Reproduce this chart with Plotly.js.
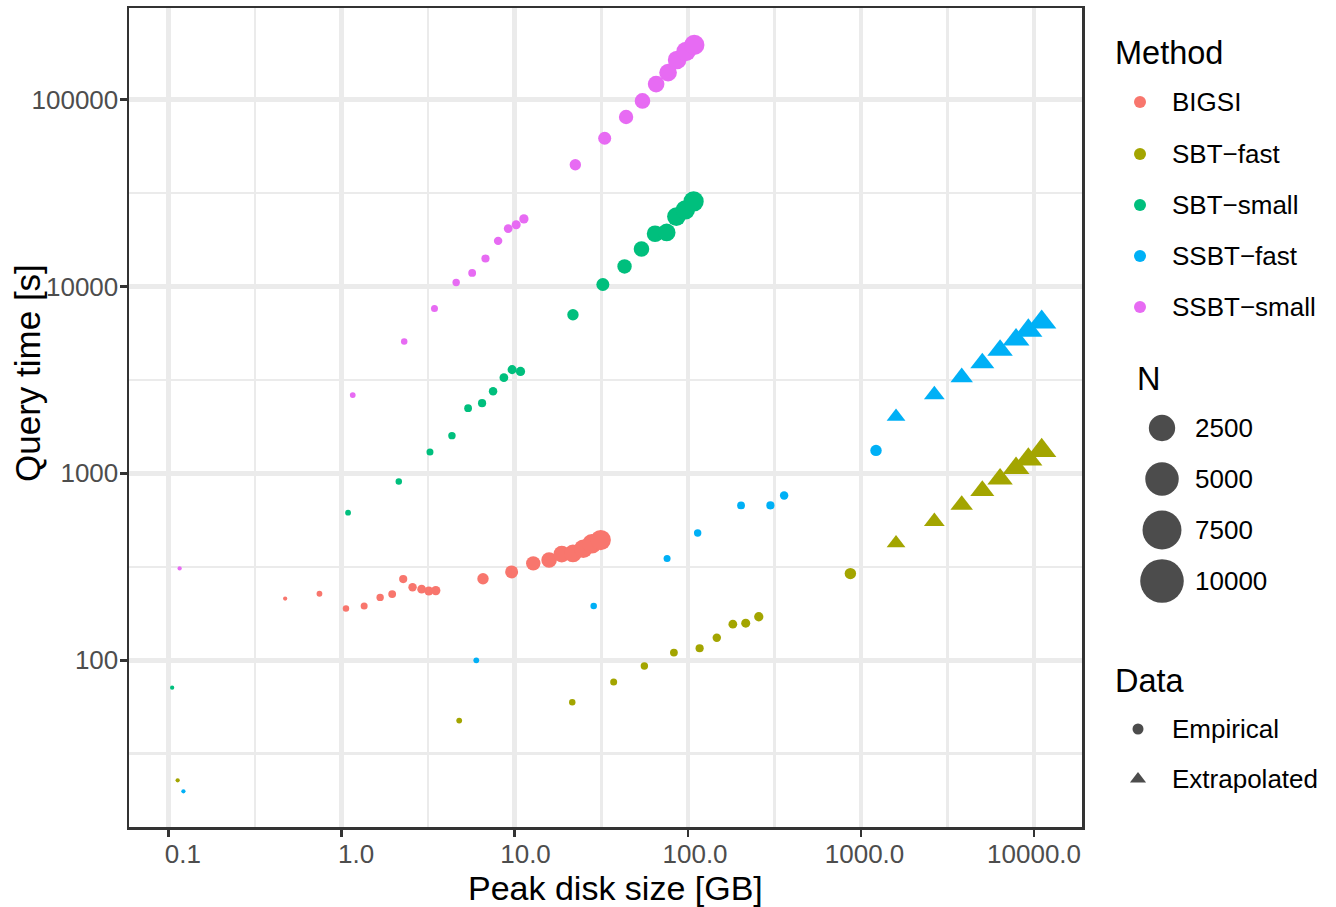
<!DOCTYPE html>
<html><head><meta charset="utf-8">
<script src="https://cdn.plot.ly/plotly-3.0.1.min.js"></script>
<style>html,body{margin:0;padding:0;background:#fff;} #chart{width:1336px;height:907px;}</style>
</head><body><div id="chart"></div>
<script>
// ---- data ----
const methods = ['BIGSI', 'SBT\u2212fast', 'SBT\u2212small', 'SSBT\u2212fast', 'SSBT\u2212small'];
const methodColors = ['#F8766D', '#A3A500', '#00BF7D', '#00B0F6', '#E76BF3'];

const bigsiX = [0.472, 0.745, 1.06, 1.35, 1.67, 1.96, 2.27, 2.57, 2.9, 3.19, 3.5, 6.56, 9.6, 12.8, 15.8, 18.7, 21.7, 24.9, 27.9, 31.4];
const bigsiY = [214, 227, 189, 195, 217, 226, 272, 246, 240, 235, 236, 273, 297, 330, 344, 370, 373, 395, 420, 440];
const bigsiN = [10, 100, 200, 300, 400, 500, 600, 700, 800, 900, 1000, 2000, 3000, 4000, 5000, 6000, 7000, 8000, 9000, 10000];
const bigsiKind = ['E','E','E','E','E','E','E','E','E','E','E','E','E','E','E','E','E','E','E','E'];

const sbtFastX = [0.113, 4.78, 21.5, 37.3, 56.1, 83.1, 117, 147, 182, 216, 257, 869, 1595, 2655, 3820, 5025, 6365, 7870, 9270, 11070];
const sbtFastY = [22.8, 47.6, 59.6, 76.5, 93.2, 110, 116, 132, 156, 158, 171, 291, 423, 552, 678, 807, 933, 1067, 1189, 1325];
const sbtFastN = [10, 100, 200, 300, 400, 500, 600, 700, 800, 900, 1000, 2000, 3000, 4000, 5000, 6000, 7000, 8000, 9000, 10000];
const sbtFastKind = ['E','E','E','E','E','E','E','E','E','E','E','E','X','X','X','X','X','X','X','X'];

const sbtSmallX = [0.105, 1.09, 2.14, 3.24, 4.34, 5.38, 6.48, 7.5, 8.66, 9.66, 10.8, 21.7, 32.3, 43.1, 54, 64.7, 75.5, 85.9, 96.8, 108];
const sbtSmallY = [71.4, 616, 906, 1300, 1592, 2233, 2376, 2748, 3253, 3590, 3510, 7060, 10250, 12800, 15860, 19150, 19460, 23650, 25700, 28500];
const sbtSmallN = [10, 100, 200, 300, 400, 500, 600, 700, 800, 900, 1000, 2000, 3000, 4000, 5000, 6000, 7000, 8000, 9000, 10000];
const sbtSmallKind = ['E','E','E','E','E','E','E','E','E','E','E','E','E','E','E','E','E','E','E','E'];

const ssbtFastX = [0.122, 6.0, 28.6, 75.9, 114, 203, 300, 360, 1222, 1595, 2655, 3820, 5025, 6365, 7870, 9270, 11070];
const ssbtFastY = [19.9, 100, 195, 350, 480, 674, 674, 762, 1327, 2010, 2637, 3266, 3890, 4560, 5200, 5810, 6440];
const ssbtFastN = [10, 100, 200, 300, 400, 500, 600, 700, 2000, 3000, 4000, 5000, 6000, 7000, 8000, 9000, 10000];
const ssbtFastKind = ['E','E','E','E','E','E','E','E','E','X','X','X','X','X','X','X','X'];

const ssbtSmallX = [0.116, 1.16, 2.3, 3.44, 4.59, 5.68, 6.78, 8.02, 9.17, 10.2, 11.3, 22.4, 33.1, 44, 54.7, 65.6, 76.9, 86.7, 97.7, 109];
const ssbtSmallY = [310, 2624, 5080, 7620, 10500, 11820, 14120, 17540, 20420, 21380, 23000, 44800, 62100, 80700, 98400, 121000, 139400, 163000, 181000, 196000];
const ssbtSmallN = [10, 100, 200, 300, 400, 500, 600, 700, 800, 900, 1000, 2000, 3000, 4000, 5000, 6000, 7000, 8000, 9000, 10000];
const ssbtSmallKind = ['E','E','E','E','E','E','E','E','E','E','E','E','E','E','E','E','E','E','E','E'];

const xTickVals = [0.1, 1, 10, 100, 1000, 10000];
const xTickLabels = ['0.1', '1.0', '10.0', '100.0', '1000.0', '10000.0'];
const yTickVals = [100, 1000, 10000, 100000];
const yTickLabels = ['100', '1000', '10000', '100000'];
const sizeBreaks = [2500, 5000, 7500, 10000];
const dataKinds = ['Empirical', 'Extrapolated'];

// ---- scales ----
const series = [
  [bigsiX, bigsiY, bigsiN, bigsiKind],
  [sbtFastX, sbtFastY, sbtFastN, sbtFastKind],
  [sbtSmallX, sbtSmallY, sbtSmallN, sbtSmallKind],
  [ssbtFastX, ssbtFastY, ssbtFastN, ssbtFastKind],
  [ssbtSmallX, ssbtSmallY, ssbtSmallN, ssbtSmallKind]
];
const allN = series.flatMap(s => s[2]);
const nMin = Math.min(...allN), nMax = Math.max(...allN);
const PX = 1.5;
function sizeFont(n) { // ggplot2 scale_size (area) → point fontsize
  const s = 1 + 5 * Math.sqrt((n - nMin) / (nMax - nMin));
  return s * 2.845 + 0.945;
}
const circleSize = n => 0.75 * sizeFont(n) * PX;
const triangleSize = n => 0.94 * sizeFont(n) * PX;

// pad labels like R's format() (common width, leading spaces)
const maxLen = Math.max(...xTickLabels.map(s => s.length));
const xTickText = xTickLabels.map(s => '\u00a0'.repeat(maxLen - s.length) + s);

const FONT = 'Liberation Sans, Arial, Helvetica, sans-serif';
const traces = [];
series.forEach((s, mi) => {
  ['E', 'X'].forEach(k => {
    const idx = s[3].map((v, i) => v === k ? i : -1).filter(i => i >= 0);
    if (!idx.length) return;
    traces.push({
      type: 'scatter', mode: 'markers', xaxis: 'x', yaxis: 'y',
      name: methods[mi] + ' ' + (k === 'E' ? dataKinds[0] : dataKinds[1]),
      x: idx.map(i => s[0][i]), y: idx.map(i => s[1][i]),
      marker: {
        color: methodColors[mi],
        symbol: k === 'E' ? 'circle' : 'triangle-up',
        size: idx.map(i => k === 'E' ? circleSize(s[2][i]) : triangleSize(s[2][i])),
        line: {width: 0}, opacity: 1
      },
      hoverinfo: 'x+y+name'
    });
  });
});

// ---- legend (drawn on a pixel-coordinate helper axis) ----
const annotations = [];
const LX = 1140;
// Method
annotations.push({xref: 'x2', yref: 'y2', x: 1113, y: 53, text: 'Method', showarrow: false, xanchor: 'left', yanchor: 'middle', font: {family: FONT, size: 32.5, color: '#000'}});
const methodKeyY = [102, 154, 205, 256, 307];
traces.push({
  type: 'scatter', mode: 'markers', xaxis: 'x2', yaxis: 'y2', hoverinfo: 'skip',
  x: methods.map(() => LX), y: methodKeyY,
  marker: {color: methodColors, size: 12, symbol: 'circle', line: {width: 0}}
});
methods.forEach((m, i) => annotations.push({xref: 'x2', yref: 'y2', x: 1170, y: methodKeyY[i], text: m, showarrow: false, xanchor: 'left', yanchor: 'middle', font: {family: FONT, size: 26, color: '#000'}}));
// N
annotations.push({xref: 'x2', yref: 'y2', x: 1135, y: 379, text: 'N', showarrow: false, xanchor: 'left', yanchor: 'middle', font: {family: FONT, size: 32.5, color: '#000'}});
const nKeyY = [428, 479, 530, 581];
traces.push({
  type: 'scatter', mode: 'markers', xaxis: 'x2', yaxis: 'y2', hoverinfo: 'skip',
  x: sizeBreaks.map(() => 1162), y: nKeyY,
  marker: {color: '#000', size: sizeBreaks.map(n => circleSize(n) * 2.15), symbol: 'circle', line: {width: 0}}
});
sizeBreaks.forEach((n, i) => annotations.push({xref: 'x2', yref: 'y2', x: 1193, y: nKeyY[i], text: String(n), showarrow: false, xanchor: 'left', yanchor: 'middle', font: {family: FONT, size: 26, color: '#000'}}));
// Data
annotations.push({xref: 'x2', yref: 'y2', x: 1113, y: 681, text: 'Data', showarrow: false, xanchor: 'left', yanchor: 'middle', font: {family: FONT, size: 32.5, color: '#000'}});
const dataKeyY = [729, 779];
traces.push({
  type: 'scatter', mode: 'markers', xaxis: 'x2', yaxis: 'y2', hoverinfo: 'skip',
  x: dataKinds.map(() => 1138), y: dataKeyY,
  marker: {color: '#000', size: [11, 14], symbol: ['circle', 'triangle-up'], line: {width: 0}}
});
dataKinds.forEach((d, i) => annotations.push({xref: 'x2', yref: 'y2', x: 1170, y: dataKeyY[i], text: d, showarrow: false, xanchor: 'left', yanchor: 'middle', font: {family: FONT, size: 26, color: '#000'}}));

// axis titles
annotations.push({xref: 'paper', yref: 'paper', x: 615 / 1336, y: 1 - 888 / 907, text: 'Peak disk size [GB]', showarrow: false, xanchor: 'center', yanchor: 'middle', font: {family: FONT, size: 34, color: '#000'}});
annotations.push({xref: 'paper', yref: 'paper', x: 27 / 1336, y: 1 - 373 / 907, text: 'Query time [s]', textangle: -90, showarrow: false, xanchor: 'center', yanchor: 'middle', font: {family: FONT, size: 35, color: '#000'}});

const W = 1336, H = 907;
const L = 129, R = 1082, T = 8, B = 827;
const xMinor = [-1.5, -0.5, 0.5, 1.5, 2.5, 3.5, 4.5].map(e => Math.pow(10, e));
const yMinor = [1.5, 2.5, 3.5, 4.5].map(e => Math.pow(10, e));
const axisCommon = {
  type: 'log', showgrid: true, gridcolor: '#EBEBEB', gridwidth: 4.5, zeroline: false,
  showline: true, linecolor: '#333333', linewidth: 2.5, mirror: true,
  ticks: 'outside', ticklen: 7, tickwidth: 2.5, tickcolor: '#333333',
  tickfont: {family: FONT, size: 26, color: '#4D4D4D'}, tickmode: 'array',
  fixedrange: true
};
const layout = {
  width: W, height: H, margin: {l: 0, r: 0, t: 0, b: 0},
  paper_bgcolor: '#FFFFFF', plot_bgcolor: '#FFFFFF', showlegend: false,
  font: {family: FONT},
  xaxis: Object.assign({}, axisCommon, {
    domain: [L / W, R / W], anchor: 'y', range: [-1.228, 4.277],
    tickvals: xTickVals, ticktext: xTickText, ticklabelstandoff: -5,
    minor: {tickmode: 'array', tickvals: xMinor, showgrid: true, gridcolor: '#EBEBEB', gridwidth: 2.5, ticks: ''}
  }),
  yaxis: Object.assign({}, axisCommon, {
    domain: [1 - B / H, 1 - T / H], anchor: 'x', range: [1.108, 5.49],
    tickvals: yTickVals, ticktext: yTickLabels, ticklabelstandoff: -4,
    minor: {tickmode: 'array', tickvals: yMinor, showgrid: true, gridcolor: '#EBEBEB', gridwidth: 2.5, ticks: ''}
  }),
  xaxis2: {domain: [1088 / W, 1], range: [1088, 1336], anchor: 'y2', visible: false, fixedrange: true},
  yaxis2: {domain: [0, 1], range: [907, 0], anchor: 'x2', visible: false, fixedrange: true},
  annotations: annotations
};
Plotly.newPlot('chart', traces, layout, {displayModeBar: false, staticPlot: true});
</script></body></html>
